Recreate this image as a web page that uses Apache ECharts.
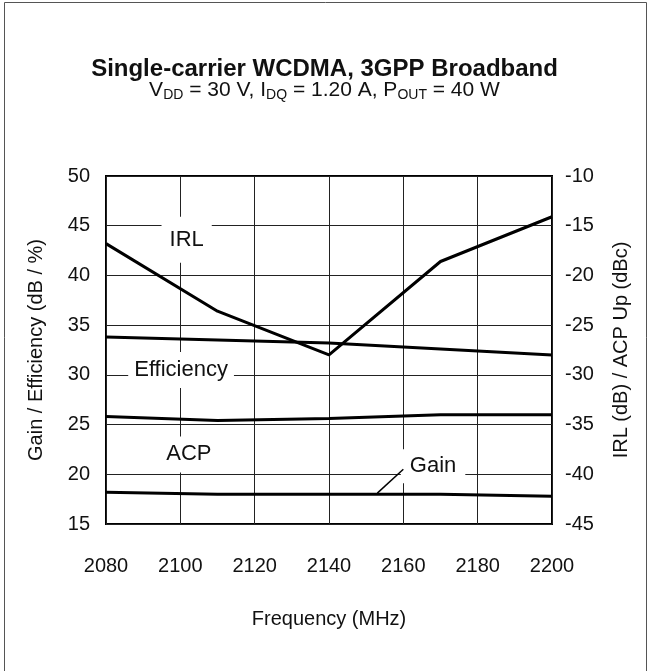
<!DOCTYPE html>
<html>
<head>
    <meta charset="utf-8">
    <title>WCDMA broadband</title>
    <script type="text/javascript" src="https://cdn.jsdelivr.net/npm/echarts@6/dist/echarts.min.js"></script>
    <style>
        body { margin: 0; background: #fff; }
        #main { width: 649px; height: 671px; }
    </style>
</head>
<body>
    <div id="main"></div>
    <script type="text/javascript">
        // frequency points (MHz)
        var freq = [2080, 2110, 2140, 2170, 2200];
        // left axis: dB / %
        var gain = [18.2, 18.0, 18.0, 18.0, 17.8];
        var efficiency = [33.8, 33.5, 33.2, 32.6, 32.0];
        // right axis: dB / dBc
        var irl = [-16.8, -23.6, -28.0, -18.6, -14.1];
        var acp = [-34.2, -34.6, -34.4, -34.0, -34.0];

        var xTicks = [2080, 2200, 20];
        var leftTicks = [15, 50, 5];
        var rightTicks = [-45, -10, 5];

        var FONT = 'Liberation Sans, Arial, sans-serif';

        function pairs(xs, ys) {
            return xs.map(function (x, i) { return [x, ys[i]]; });
        }

        // boxed text label sitting on the grid
        function tag(text, coord, pad) {
            return {
                coord: coord,
                symbolSize: 0,
                label: {
                    show: true,
                    position: 'inside',
                    formatter: text,
                    color: '#111',
                    fontFamily: FONT,
                    fontSize: 22,
                    backgroundColor: '#fff',
                    padding: pad
                }
            };
        }

        function lineSeries(name, data, yIndex, marks) {
            var s = {
                name: name,
                type: 'line',
                yAxisIndex: yIndex,
                data: data,
                symbol: 'none',
                smooth: false,
                lineStyle: { color: '#000', width: 3 },
                z: 3
            };
            if (marks) {
                s.markPoint = { silent: true, symbol: 'rect', data: marks, z: 4 };
            }
            return s;
        }

        var gainSeries = lineSeries('Gain', pairs(freq, gain), 0, [tag('Gain', [2168, 20.8], [6, 9, 6, 9])]);
        gainSeries.markLine = {
            silent: true,
            symbol: 'none',
            label: { show: false },
            lineStyle: { color: '#000', width: 1.5, type: 'solid' },
            data: [[{ coord: [2153, 18.1] }, { coord: [2160, 20.5] }]]
        };

        var plain = function (v) { return String(v); };

        var option = {
            animation: false,
            backgroundColor: '#fff',
            title: [{
                text: 'Single-carrier WCDMA, 3GPP Broadband',
                left: 'center',
                top: 52,
                textStyle: { fontFamily: FONT, fontSize: 24, fontWeight: 'bold', color: '#111' }
            }, {
                text: '{n|V}{s|DD}{n| = 30 V, I}{s|DQ}{n| = 1.20 A, P}{s|OUT}{n| = 40 W}',
                left: 'center',
                top: 73,
                textStyle: {
                    fontWeight: 'normal',
                    rich: {
                        n: { fontFamily: FONT, fontSize: 21, fontWeight: 'normal', color: '#111', lineHeight: 24 },
                        s: { fontFamily: FONT, fontSize: 14, fontWeight: 'normal', color: '#111', lineHeight: 14, padding: [11, 0, 0, 0] }
                    }
                }
            }],
            graphic: [{
                type: 'rect',
                silent: true,
                shape: { x: 4.5, y: 2.5, width: 642, height: 672 },
                style: { fill: 'none', stroke: '#555', lineWidth: 1 }
            }],
            grid: {
                left: 106, right: 97, top: 176, bottom: 147,
                show: true, borderColor: '#000', borderWidth: 2,
                containLabel: false
            },
            xAxis: {
                type: 'value',
                min: xTicks[0], max: xTicks[1], interval: xTicks[2],
                name: 'Frequency (MHz)',
                nameLocation: 'middle',
                nameGap: 85,
                nameTextStyle: { fontFamily: FONT, fontSize: 20, color: '#111' },
                axisLine: { show: false },
                axisTick: { show: false },
                axisLabel: { margin: 32, fontFamily: FONT, fontSize: 20, color: '#111', formatter: plain },
                splitLine: { show: true, lineStyle: { color: '#222', width: 1 } }
            },
            yAxis: [{
                type: 'value',
                position: 'left',
                min: leftTicks[0], max: leftTicks[1], interval: leftTicks[2],
                name: 'Gain / Efficiency (dB / %)',
                nameLocation: 'middle',
                nameGap: 60,
                nameTextStyle: { fontFamily: FONT, fontSize: 20, color: '#111' },
                axisLine: { show: false },
                axisTick: { show: false },
                axisLabel: { margin: 16, fontFamily: FONT, fontSize: 20, color: '#111' },
                splitLine: { show: true, lineStyle: { color: '#222', width: 1 } }
            }, {
                type: 'value',
                position: 'right',
                min: rightTicks[0], max: rightTicks[1], interval: rightTicks[2],
                name: 'IRL (dB) / ACP Up (dBc)',
                nameLocation: 'middle',
                nameGap: 59,
                nameTextStyle: { fontFamily: FONT, fontSize: 20, color: '#111' },
                axisLine: { show: false },
                axisTick: { show: false },
                axisLabel: { margin: 13, fontFamily: FONT, fontSize: 20, color: '#111' },
                splitLine: { show: false }
            }],
            series: [
                lineSeries('IRL', pairs(freq, irl), 1, [tag('IRL', [2101.7, -16.4], [12, 8, 12, 8])]),
                lineSeries('Efficiency', pairs(freq, efficiency), 0, [tag('Efficiency', [2100.2, 30.5], [7, 6, 7, 6])]),
                lineSeries('ACP', pairs(freq, acp), 1, [tag('ACP', [2102.3, -38.0], [7, 7, 7, 7])]),
                gainSeries
            ]
        };

        echarts.init(document.getElementById('main')).setOption(option);
    </script>
</body>
</html>
